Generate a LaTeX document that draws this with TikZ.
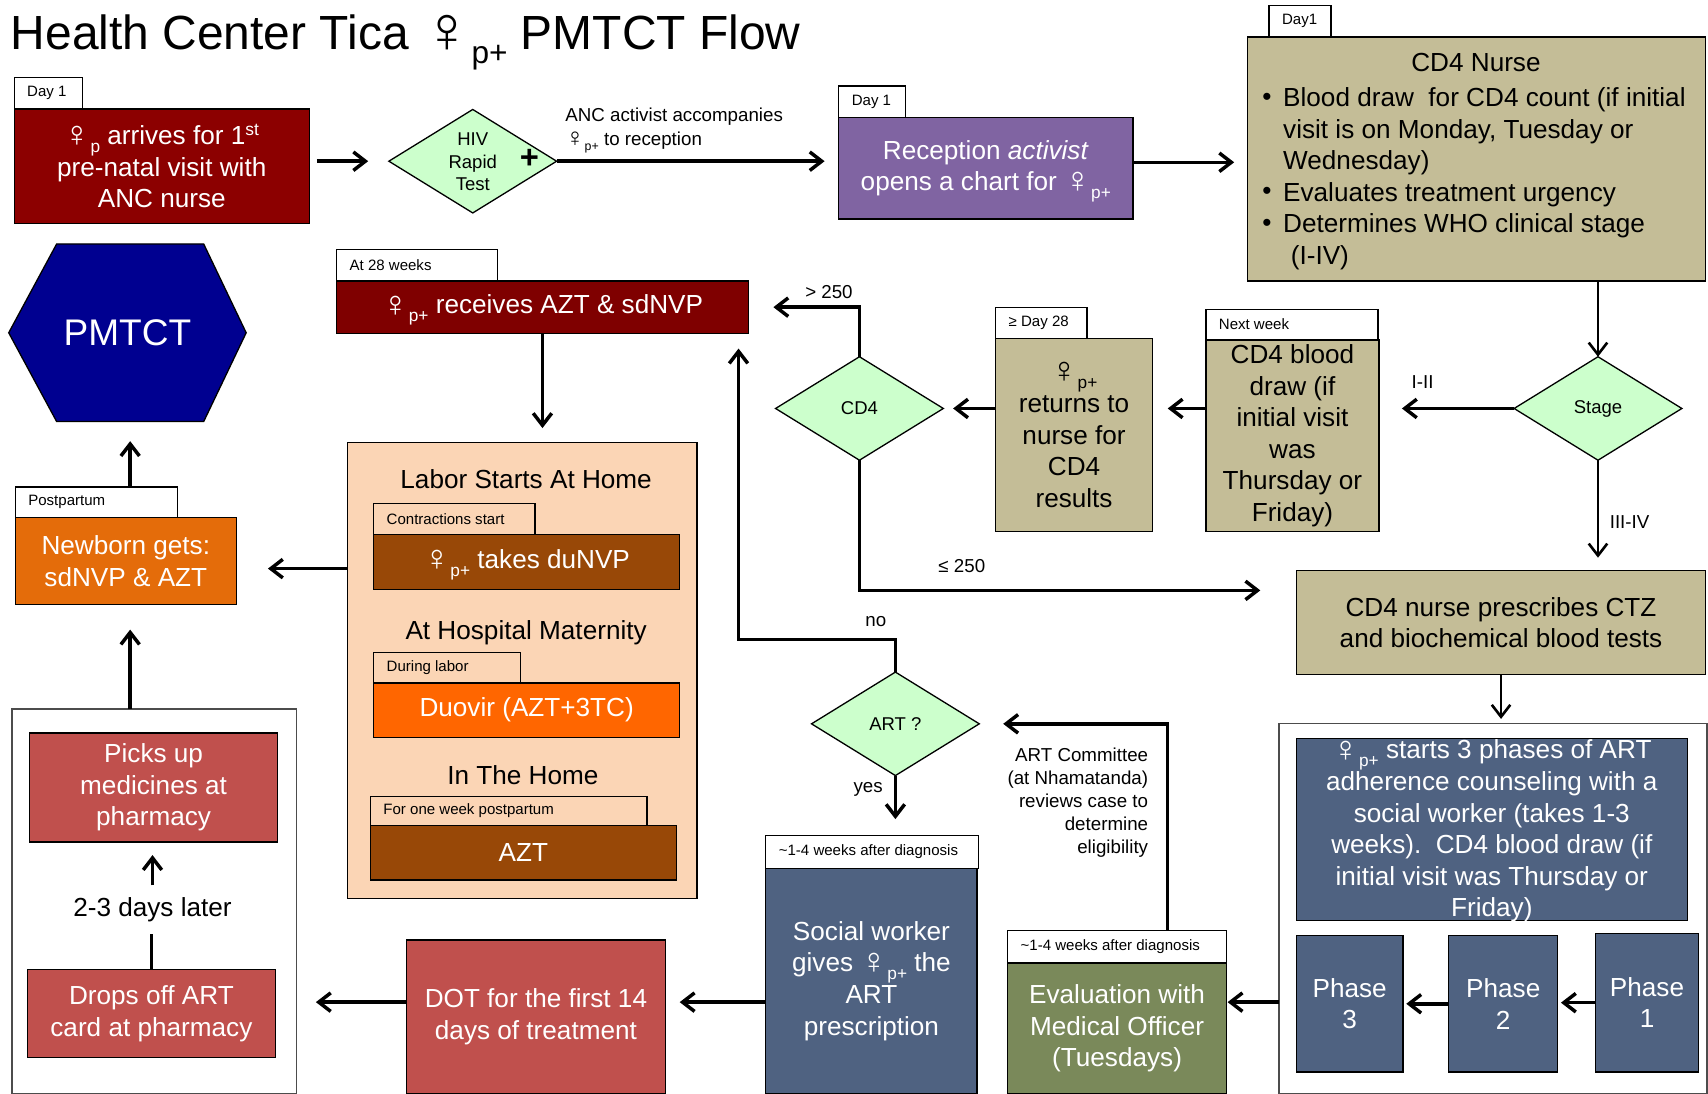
\documentclass[tikz,border=0pt]{standalone}
\usepackage{fontspec}
\setmainfont{Liberation Sans}
\usepackage{graphicx}
\usetikzlibrary{arrows.meta,shapes.geometric}

\definecolor{wine}{HTML}{8C0000}
\definecolor{winedark}{HTML}{7F0000}
\definecolor{lilac}{HTML}{8064A2}
\definecolor{khaki}{HTML}{C4BD97}
\definecolor{mint}{HTML}{CCFFCC}
\definecolor{slate}{HTML}{4F6281}
\definecolor{moss}{HTML}{7A895A}
\definecolor{brick}{HTML}{C0504D}
\definecolor{pumpkin}{HTML}{E46C0A}
\definecolor{tangerine}{HTML}{FF6600}
\definecolor{rust}{HTML}{984807}
\definecolor{peach}{HTML}{FBD5B5}
\definecolor{hexblue}{HTML}{000090}

% female sign with a lowered, reduced subscript (kept out of the line spacing)
\newcommand\fem{\vphantom{Ap}\smash{\raisebox{-0.08em}{\scalebox{1.38}{♀}}}}
\newcommand\fsub[1]{\smash{\raisebox{-0.3em}{\scalebox{0.66}{#1}}}}
\newcommand\fp{\fem\fsub{p}}
\newcommand\fpp{\fem\fsub{p+}}

% rectangle given by its corners (x0,y0) and (x1,y1)
\newcommand\boxnode[7]{%
  \node[#2, minimum width={(#5-#3)*0.5pt}, minimum height={(#6-#4)*0.5pt}] (#1) at (#3,#4) {#7};}
% small caption tab with left-set text
\newcommand\tabnode[7]{%
  \node[tabbox, fill=#7, minimum width={(#4-#2)*0.5pt}, minimum height={(#5-#3)*0.5pt}] (#1) at (#2,#3) {};
  \node[tabtxt] (#1t) at ([xshift=6pt]#1.west) {#6};}

\tikzset{
  base/.style={inner sep=0pt, outer sep=0pt},
  blk/.style={base, anchor=north west, draw=black, line width=0.6pt, align=center,
              font=\fontsize{12}{14.5}\selectfont},
  lt/.style={blk, text=white},
  dk/.style={blk, text=black},
  tabbox/.style={base, anchor=north west, draw=black, line width=0.6pt},
  tabtxt/.style={base, anchor=west, font=\fontsize{6.9}{8}\selectfont},
  dia/.style={base, diamond, draw=black, line width=0.6pt, fill=mint,
              minimum width=77pt, minimum height=47.5pt},
  diatxt/.style={base, align=center, font=\fontsize{8.5}{10.25}\selectfont},
  lbl/.style={base, font=\fontsize{8.6}{10.5}\selectfont},
  txt/.style={base, align=center, font=\fontsize{12}{14.5}\selectfont},
  arr/.style={line width=1.6pt, -{Straight Barb[length=5.5pt,width=8.5pt]}},
  wire/.style={line width=1.6pt},
  frame/.style={base, anchor=north west, draw=black!70, line width=0.7pt, fill=white},
}

\begin{document}
\begin{tikzpicture}[x=0.5pt,y=-0.5pt]
\useasboundingbox (0,0) rectangle (1568,1004);

\node[base, anchor=base west, font=\fontsize{22}{26}\selectfont] (title) at (10,45)
  {Health Center Tica \fpp{} PMTCT Flow};

% ---- first visit row
\tabnode{tda}{13}{71}{76}{100}{Day 1}{white}
\boxnode{arrive}{lt, fill=wine}{13}{100}{284}{205}{\fp{} arrives for 1\textsuperscript{st}\\pre-natal visit with\\ANC nurse}
\node[dia] (hiv) at (434,148) {};
\node[diatxt] (hivt) at (434,148.5) {HIV\\Rapid\\Test};
\node[base, font=\fontsize{15}{15}\selectfont\bfseries] (plus) at (486,146) {+};
\node[lbl, anchor=west, align=left, font=\fontsize{8.6}{11}\selectfont] (ancl) at (519,118)
  {ANC activist accompanies\\\fpp{} to reception};
\tabnode{tdb}{770}{79}{831}{108}{Day 1}{white}
\boxnode{recep}{lt, fill=lilac}{770}{108}{1040}{201}{Reception \textit{activist}\\opens a chart for \fpp}

% ---- CD4 nurse
\tabnode{tdc}{1165}{5}{1222}{34}{Day1}{white}
\boxnode{cd4n}{dk, fill=khaki}{1145}{34}{1566}{258}{}
\node[txt] (cd4nt) at (1355,57) {CD4 Nurse};
\node[txt, anchor=west, align=left] (cd4nl) at (1178,164)
  {Blood draw\ \ for CD4 count (if initial\\visit is on Monday, Tuesday or\\Wednesday)\\Evaluates treatment urgency\\Determines WHO clinical stage\\\hspace{3.5pt}(I-IV)};
\node[txt] (bu1) at (1163,91) {•};
\node[txt] (bu2) at (1163,178) {•};
\node[txt] (bu3) at (1163,207) {•};

\node[dia] (stage) at (1467,375) {};
\node[diatxt] (staget) at (1467,375) {Stage};

% ---- CD4 results loop
\tabnode{tnw}{1107}{284}{1265}{312}{Next week}{white}
\boxnode{draw2}{dk, fill=khaki}{1107}{312}{1266}{488}{CD4 blood\\draw (if\\initial visit\\was\\Thursday or\\Friday)}
\tabnode{tdy}{914}{282}{998}{311}{≥ Day 28}{white}
\boxnode{ret}{dk, fill=khaki}{914}{311}{1058}{488}{\fpp\\returns to\\nurse for\\CD4\\results}
\node[dia] (cd4) at (789,375) {};
\node[diatxt] (cd4t) at (789,375) {CD4};

\boxnode{ctz}{dk, fill=khaki}{1190}{524}{1566}{619}{CD4 nurse prescribes CTZ\\and biochemical blood tests}

% ---- adherence counselling
\boxnode{cont}{frame}{1174}{664}{1567}{1004}{}
\boxnode{adh}{lt, fill=slate}{1190}{678}{1549}{845}{}
\node[txt, text=white] (adht) at (1369.5,763)
  {\fpp{} starts 3 phases of ART\\adherence counseling with a\\social worker (takes 1-3\\weeks).\ \ CD4 blood draw (if\\initial visit was Thursday or\\Friday)};
\boxnode{ph3}{lt, fill=slate}{1190}{859}{1288}{984}{Phase\\3}
\boxnode{ph2}{lt, fill=slate}{1330}{859}{1430}{984}{Phase\\2}
\boxnode{ph1}{lt, fill=slate}{1465}{857}{1559}{984}{Phase\\1}

\tabnode{tev}{925}{854}{1126}{884}{\textasciitilde1-4 weeks after diagnosis}{white}
\boxnode{eval}{lt, fill=moss}{925}{884}{1126}{1004}{Evaluation with\\Medical Officer\\(Tuesdays)}

\node[dia] (art) at (822,664.5) {};
\node[diatxt] (artt) at (822,664.5) {ART ?};
\node[lbl, anchor=east, align=right] (comm) at (1054,737)
  {ART Committee\\(at Nhamatanda)\\reviews case to\\determine\\eligibility};

\tabnode{tsw}{703}{767}{898}{797}{\textasciitilde1-4 weeks after diagnosis}{white}
\boxnode{soc}{lt, fill=slate}{703}{797}{897}{1004}{Social worker\\gives \fpp{} the\\ART\\prescription}
\boxnode{dot}{lt, fill=brick}{373}{863}{611}{1004}{DOT for the first 14\\days of treatment}

% ---- pharmacy
\boxnode{lcont}{frame}{11}{651}{272}{1004}{}
\boxnode{pick}{lt, fill=brick}{27}{673}{255}{773}{Picks up\\medicines at\\pharmacy}
\node[txt, inner ysep=5.5pt] (later) at (140,835) {2-3 days later};
\boxnode{drop}{lt, fill=brick}{25}{890}{253}{971}{Drops off ART\\card at pharmacy}

% ---- newborn and PMTCT
\tabnode{tpp}{14}{447}{163}{475}{Postpartum}{white}
\boxnode{nb}{lt, fill=pumpkin}{14}{475}{217}{555}{Newborn gets:\\sdNVP \& AZT}
\node[base, minimum width=109pt, minimum height=81.5pt] (hex) at (117,305.5) {};
\fill[hexblue, draw=black, line width=0.6pt] (hex.west) -- ([xshift=22pt]hex.north west)
  -- ([xshift=-19.5pt]hex.north east) -- (hex.east) -- ([xshift=-19.5pt]hex.south east)
  -- ([xshift=22pt]hex.south west) -- cycle;
\node[base, text=white, font=\fontsize{17}{20}\selectfont] (hext) at (hex.center) {PMTCT};

% ---- 28 weeks and labour
\tabnode{t28}{309}{229}{457}{258}{At 28 weeks}{white}
\boxnode{rcv}{lt, fill=winedark}{309}{258}{687}{306}{\fpp{} receives AZT \& sdNVP}

\boxnode{labor}{blk, fill=peach}{319}{406}{640}{825}{}
\node[txt] (lh1) at (483,440) {Labor Starts At Home};
\tabnode{tcs}{343}{462}{491}{491}{Contractions start}{peach}
\boxnode{dunvp}{lt, fill=rust}{343}{491}{624}{541}{\fpp{} takes duNVP}
\node[txt] (lh2) at (483,581) {At Hospital Maternity};
\tabnode{tdl}{343}{599}{478}{627}{During labor}{peach}
\boxnode{duo}{lt, fill=tangerine}{343}{627}{624}{677}{Duovir (AZT+3TC)}
\node[txt] (lh3) at (480,712) {In The Home};
\tabnode{tow}{340}{731}{594}{758}{For one week postpartum}{peach}
\boxnode{azt}{lt, fill=rust}{340}{758}{621}{808}{AZT}

% ---- connectors
\coordinate (lowrow) at (0,920);
\coordinate (noc) at (678,587);

\draw[arr, shorten <=3.5pt, shorten >=9.5pt] (hiv.west -| arrive.east) -- (hiv.west);
\draw[arr, shorten >=6.5pt] (hiv.east) -- (hiv.east -| recep.west);
\draw[arr, shorten >=6pt] ([yshift=2.75pt]recep.east) -- ([yshift=2.75pt]recep.east -| cd4n.west);
\draw[arr, line width=1.2pt] (stage.north |- cd4n.south) -- (stage.north);
\draw[arr, shorten >=10.5pt] (stage.west) -- (stage.west -| draw2.east);
\node[lbl] (l12) at (1306,351) {I-II};
\draw[arr, line width=1.2pt, shorten >=6pt] (stage.south) -- (stage.south |- ctz.north);
\node[lbl] (l34) at (1496,479) {III-IV};
\draw[arr, shorten >=7pt] (stage.west -| draw2.west) -- (stage.west -| ret.east);
\draw[arr, shorten >=4.5pt] (stage.west -| ret.west) -- (cd4.east);
\draw[arr, shorten >=11.5pt] (cd4.north) |- (rcv.east);
\node[lbl] (lgt) at (761,268) {> 250};
\draw[arr, shorten >=16.5pt] (cd4.south) |- ([yshift=14.75pt]ctz.west);
\node[lbl] (lle) at (883,520) {≤ 250};
\draw[arr, line width=1.2pt, shorten >=2pt] (ctz.south) -- (ctz.south |- cont.north);
\draw[arr, shorten >=1.5pt] (ph1.west) -- (ph1.west -| ph2.east);
\draw[arr, shorten >=1.5pt] (ph2.west) -- (ph2.west -| ph3.east);
\draw[arr, shorten >=0.5pt] (lowrow -| cont.west) -- (lowrow -| eval.east);
\draw[arr, shorten >=11pt] ([xshift=23.25pt]tev.north) |- (art.east);
\draw[arr, shorten >=7pt] (art.north) |- (noc) -- (noc |- rcv.south);
\node[lbl] (lno) at (804,571) {no};
\draw[arr, shorten >=7.5pt] (art.south) -- (art.south |- tsw.north);
\node[lbl] (lyes) at (797,725) {yes};
\draw[arr, shorten >=6.5pt] (lowrow -| soc.west) -- (lowrow -| dot.east);
\draw[arr, shorten >=9pt] (lowrow -| dot.west) -- (lowrow -| lcont.east);
\draw[arr, shorten >=6pt] (later.north) -- (later.north |- pick.south);
\draw[wire] (drop.north) -- (drop.north |- later.south);
\draw[arr, shorten >=11.5pt] ([xshift=2pt]nb.south |- lcont.north) -- ([xshift=2pt]nb.south);
\draw[arr, shorten >=9pt] ([xshift=2pt]nb.south |- tpp.north) -- ([xshift=2pt]nb.south |- hex.south);
\draw[arr, shorten >=6.5pt] (rcv.south) -- (rcv.south |- labor.north);
\draw[arr, shorten >=14.5pt] ([yshift=-3.5pt]nb.east -| labor.west) -- ([yshift=-3.5pt]nb.east);
\end{tikzpicture}
\end{document}
